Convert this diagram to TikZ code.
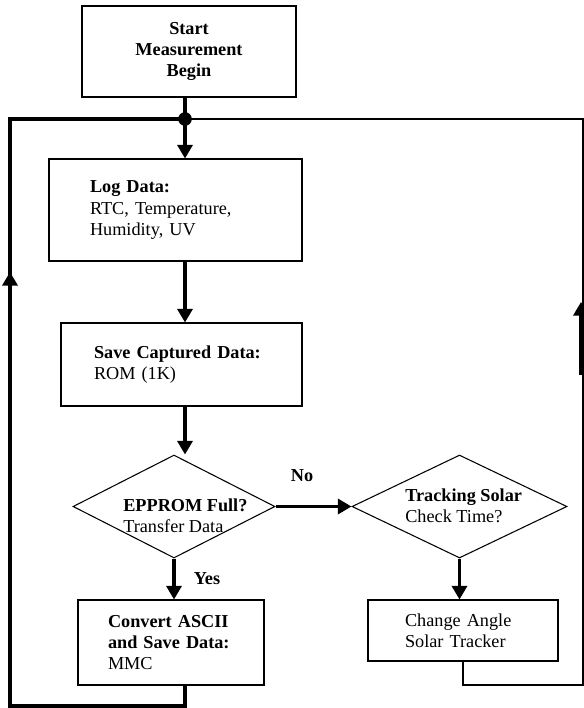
\documentclass[tikz,border=0pt]{standalone}
\usepackage{fontspec}
\setmainfont{Liberation Serif}
\usetikzlibrary{shapes.geometric}
\usetikzlibrary{arrows.meta}
\newcommand{\pxl}{0.658pt}
\tikzset{
	box/.style={draw=black, line width=0.7pt, rectangle, align=left},
	decision/.style={draw=black, line width=0.7pt, diamond, inner sep=0pt},
	flow/.style={line width=2pt, -{Triangle[width=10pt 0,length=9pt 0]}},
	loopline/.style={line width=2pt},
	thinline/.style={line width=0.9pt},
}

\begin{document}
\begin{tikzpicture}[x=\pxl, y=-\pxl, font=\fontsize{12pt}{14pt}\selectfont]
				\useasboundingbox (0,0) rectangle (584,708);

				%Nodes
				\node[box, align=center, minimum width=214*\pxl, minimum height=91*\pxl] (start) at (189,51.5) {\textbf{Start}\\\textbf{Measurement}\\\textbf{Begin}};
				\node[box, text width=171*\pxl, inner xsep=41*\pxl, minimum height=102*\pxl] (log) at (175.5,210) {\textbf{Log Data:}\\RTC, Temperature,\\Humidity, UV};
				\node[box, text width=175*\pxl, inner xsep=33*\pxl, minimum height=83*\pxl] (save) at (181.5,364.5) {\textbf{Save Captured Data:}\\ROM (1K)};
				\node[decision, minimum width=202*\pxl, minimum height=103*\pxl] (d1) at (174,506.5) {};
				\node[decision, minimum width=215*\pxl, minimum height=103*\pxl] (d2) at (459.5,506.5) {};
				\node[anchor=west, align=left, inner sep=0pt] (d1txt) at (123,516) {\textbf{EPPROM Full?}\\Transfer Data};
				\node[anchor=west, align=left, inner sep=0pt] (d2txt) at (405,506) {\textbf{Tracking Solar}\\Check Time?};
				\node[box, text width=126*\pxl, inner xsep=30*\pxl, minimum height=85*\pxl] (conv) at (171,642.5) {\textbf{Convert ASCII}\\\textbf{and Save Data:}\\MMC};
				\node[box, text width=116*\pxl, inner xsep=37*\pxl, minimum height=61*\pxl] (chg) at (463,630.5) {Change Angle\\Solar Tracker};
				\node (no) at (302,476) {\textbf{No}};
				\node (yes) at (207,579) {\textbf{Yes}};

				\coordinate      (junc) 	at 	(185,119);
				\coordinate      (topL) 	at 	(10,119);
				\coordinate      (botL) 	at 	(10,706);
				\coordinate      (arrL) 	at 	(10,272);
				\coordinate      (topR) 	at 	(583,119);
				\coordinate      (botR) 	at 	(583,685);
				\coordinate      (arrRa) 	at 	(581,375);
				\coordinate      (arrRb) 	at 	(581,302);

				%Lines
				\draw[loopline] (start.south -| junc) -- (junc);
				\draw[flow] (junc) -- (junc |- log.north);
				\draw[flow] (junc |- log.south) -- (junc |- save.north);
				\draw[flow] (junc |- save.south) -- (junc |- d1.north);
				\draw[flow] (d1.east) -- (d2.west);
				\draw[flow] (d1.south) -- (d1.south |- conv.north);
				\draw[flow] (d2.south) -- (d2.south |- chg.north);

				%Loops
				\draw[loopline] (conv.south -| junc) |- (botL) -- (topL) -- (junc);
				\draw[flow] (botL) -- (arrL);
				\draw[thinline] (chg.south) |- (botR) -- (topR) -- (junc);
				\draw[flow] (arrRa) -- (arrRb);

				\fill (junc) circle (4.5pt);

		\end{tikzpicture}
\end{document}
